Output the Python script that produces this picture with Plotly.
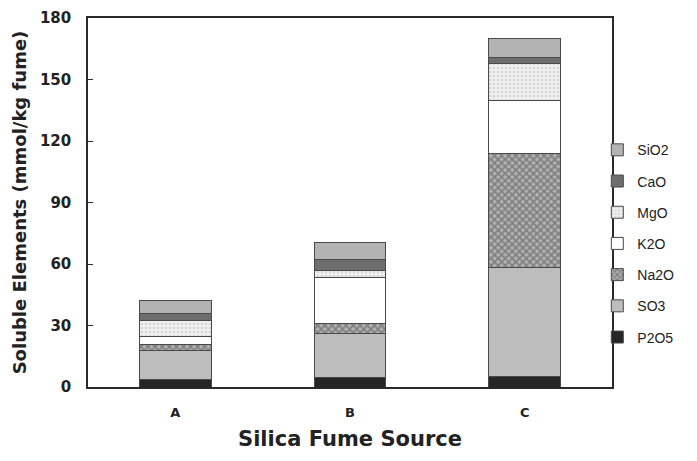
import plotly.graph_objects as go

categories = ["A", "B", "C"]
P2O5 = [3.5, 4.5, 5.0]
SO3 = [14.5, 21.5, 53.5]
Na2O = [2.5, 5.0, 55.5]
K2O = [4.0, 22.5, 26.0]
MgO = [8.0, 3.5, 18.0]
CaO = [3.5, 5.0, 2.5]
SiO2 = [6.0, 8.5, 9.5]

series = [
    ("P2O5", P2O5, dict(color="#262626")),
    ("SO3", SO3, dict(color="#bdbdbd")),
    ("Na2O", Na2O, dict(color="#9a9a9a", pattern=dict(shape="x", fgcolor="#4a4a4a", bgcolor="#b0b0b0", size=5, solidity=0.5))),
    ("K2O", K2O, dict(color="#ffffff")),
    ("MgO", MgO, dict(color="#e6e6e6", pattern=dict(shape=".", fgcolor="#bcbcbc", bgcolor="#f0f0f0", size=4, solidity=0.35))),
    ("CaO", CaO, dict(color="#6e6e6e")),
    ("SiO2", SiO2, dict(color="#b3b3b3")),
]

fig = go.Figure()
n = len(series)
for i, (name, vals, mk) in enumerate(series):
    mk = dict(mk)
    mk["line"] = dict(color="#4a4a4a", width=1)
    fig.add_trace(go.Bar(x=categories, y=vals, name=name, marker=mk,
                         width=0.41, legendgroup=name, legendrank=n - i))

font_family = "DejaVu Sans, Arial, sans-serif"
legend_font = "Liberation Sans, Arial, sans-serif"
fig.update_layout(
    barmode="stack",
    width=697, height=461,
    margin=dict(l=88, r=85, t=18, b=74),
    plot_bgcolor="white", paper_bgcolor="white",
    font=dict(family=font_family, color="#222222"),
    showlegend=True,
    legend=dict(traceorder="grouped", tracegroupgap=10,
                x=0.972, xanchor="left", y=0.685, yanchor="top",
                font=dict(size=14, family=legend_font, color="#222222"), itemwidth=30,
                bgcolor="rgba(0,0,0,0)"),
)
fig.update_xaxes(
    automargin=False,
    showline=True, linecolor="#2a2a2a", linewidth=1.5, mirror=True,
    ticks="", tickfont=dict(size=13, family=font_family, color="#222222"),
    ticklabelstandoff=13,
    title=dict(text="<b>Silica Fume Source</b>", font=dict(size=21), standoff=12),
    tickprefix="<b>", ticksuffix="</b>",
)
fig.update_yaxes(
    automargin=False,
    range=[0, 180], dtick=30, showgrid=False, zeroline=False,
    showline=True, linecolor="#2a2a2a", linewidth=1.5, mirror=True,
    ticks="inside", ticklen=5, tickcolor="#2a2a2a",
    tickfont=dict(size=15, family=font_family, color="#222222"),
    ticklabelstandoff=12,
    tickprefix="<b>", ticksuffix="</b>",
    title=dict(text="<b>Soluble Elements (mmol/kg fume)</b>", font=dict(size=18), standoff=9),
)
fig.write_html("out.html", config={"displayModeBar": False},
               post_script="document.body.style.margin='0';")
